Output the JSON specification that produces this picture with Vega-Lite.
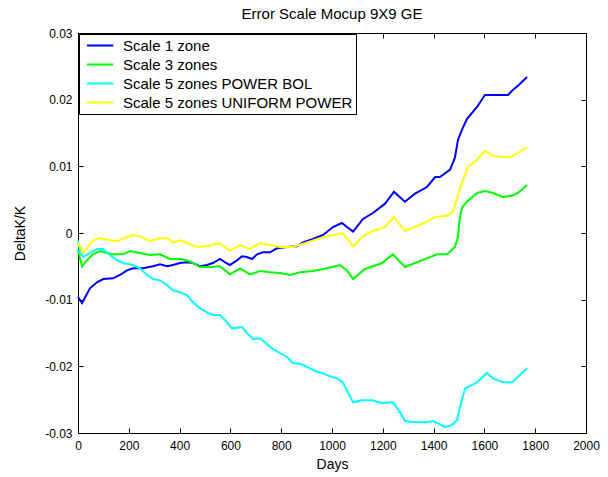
{
"$schema":"https://vega.github.io/schema/vega-lite/v6.json",
"width":508,"height":400,
"autosize":{"type":"none"},
"padding":{"left":78,"top":33,"right":22,"bottom":44},
"background":"white",
"title":{"text":"Error Scale Mocup 9X9 GE","font":"Liberation Sans","fontSize":15,"fontWeight":"normal","color":"black","anchor":"middle","frame":"group","baseline":"bottom","offset":-10},
"data":{"values":[
{"s":"Scale 1 zone","d":0,"v":-0.0096},{"s":"Scale 1 zone","d":16,"v":-0.0105},{"s":"Scale 1 zone","d":47,"v":-0.0083},{"s":"Scale 1 zone","d":75,"v":-0.0074},{"s":"Scale 1 zone","d":99,"v":-0.0069},{"s":"Scale 1 zone","d":138,"v":-0.0068},{"s":"Scale 1 zone","d":165,"v":-0.0063},{"s":"Scale 1 zone","d":193,"v":-0.0056},{"s":"Scale 1 zone","d":217,"v":-0.0053},{"s":"Scale 1 zone","d":256,"v":-0.0053},{"s":"Scale 1 zone","d":295,"v":-0.0050},{"s":"Scale 1 zone","d":323,"v":-0.0047},{"s":"Scale 1 zone","d":351,"v":-0.0050},{"s":"Scale 1 zone","d":374,"v":-0.0048},{"s":"Scale 1 zone","d":401,"v":-0.0045},{"s":"Scale 1 zone","d":429,"v":-0.0044},{"s":"Scale 1 zone","d":453,"v":-0.0045},{"s":"Scale 1 zone","d":481,"v":-0.0050},{"s":"Scale 1 zone","d":508,"v":-0.0048},{"s":"Scale 1 zone","d":531,"v":-0.0045},{"s":"Scale 1 zone","d":559,"v":-0.0039},{"s":"Scale 1 zone","d":579,"v":-0.0044},{"s":"Scale 1 zone","d":598,"v":-0.0048},{"s":"Scale 1 zone","d":626,"v":-0.0041},{"s":"Scale 1 zone","d":646,"v":-0.0035},{"s":"Scale 1 zone","d":665,"v":-0.0036},{"s":"Scale 1 zone","d":685,"v":-0.0039},{"s":"Scale 1 zone","d":705,"v":-0.0032},{"s":"Scale 1 zone","d":728,"v":-0.0029},{"s":"Scale 1 zone","d":756,"v":-0.0029},{"s":"Scale 1 zone","d":783,"v":-0.0023},{"s":"Scale 1 zone","d":823,"v":-0.0021},{"s":"Scale 1 zone","d":862,"v":-0.0020},{"s":"Scale 1 zone","d":886,"v":-0.0014},{"s":"Scale 1 zone","d":925,"v":-0.0009},{"s":"Scale 1 zone","d":965,"v":-0.0003},{"s":"Scale 1 zone","d":1004,"v":0.0009},{"s":"Scale 1 zone","d":1039,"v":0.0015},{"s":"Scale 1 zone","d":1059,"v":0.0009},{"s":"Scale 1 zone","d":1083,"v":0.0002},{"s":"Scale 1 zone","d":1122,"v":0.0021},{"s":"Scale 1 zone","d":1161,"v":0.0030},{"s":"Scale 1 zone","d":1209,"v":0.0044},{"s":"Scale 1 zone","d":1244,"v":0.0062},{"s":"Scale 1 zone","d":1287,"v":0.0047},{"s":"Scale 1 zone","d":1327,"v":0.0059},{"s":"Scale 1 zone","d":1374,"v":0.0069},{"s":"Scale 1 zone","d":1406,"v":0.0084},{"s":"Scale 1 zone","d":1425,"v":0.0084},{"s":"Scale 1 zone","d":1465,"v":0.0095},{"s":"Scale 1 zone","d":1484,"v":0.0113},{"s":"Scale 1 zone","d":1496,"v":0.0140},{"s":"Scale 1 zone","d":1512,"v":0.0155},{"s":"Scale 1 zone","d":1531,"v":0.0171},{"s":"Scale 1 zone","d":1571,"v":0.0189},{"s":"Scale 1 zone","d":1602,"v":0.0207},{"s":"Scale 1 zone","d":1650,"v":0.0207},{"s":"Scale 1 zone","d":1693,"v":0.0207},{"s":"Scale 1 zone","d":1713,"v":0.0215},{"s":"Scale 1 zone","d":1732,"v":0.0221},{"s":"Scale 1 zone","d":1768,"v":0.0234},
{"s":"Scale 3 zones","d":0,"v":-0.0026},{"s":"Scale 3 zones","d":16,"v":-0.0050},{"s":"Scale 3 zones","d":35,"v":-0.0041},{"s":"Scale 3 zones","d":59,"v":-0.0032},{"s":"Scale 3 zones","d":87,"v":-0.0027},{"s":"Scale 3 zones","d":114,"v":-0.0030},{"s":"Scale 3 zones","d":138,"v":-0.0032},{"s":"Scale 3 zones","d":177,"v":-0.0032},{"s":"Scale 3 zones","d":205,"v":-0.0027},{"s":"Scale 3 zones","d":244,"v":-0.0030},{"s":"Scale 3 zones","d":283,"v":-0.0033},{"s":"Scale 3 zones","d":323,"v":-0.0032},{"s":"Scale 3 zones","d":362,"v":-0.0039},{"s":"Scale 3 zones","d":402,"v":-0.0039},{"s":"Scale 3 zones","d":429,"v":-0.0041},{"s":"Scale 3 zones","d":453,"v":-0.0045},{"s":"Scale 3 zones","d":480,"v":-0.0051},{"s":"Scale 3 zones","d":520,"v":-0.0051},{"s":"Scale 3 zones","d":559,"v":-0.0050},{"s":"Scale 3 zones","d":598,"v":-0.0062},{"s":"Scale 3 zones","d":638,"v":-0.0053},{"s":"Scale 3 zones","d":677,"v":-0.0062},{"s":"Scale 3 zones","d":717,"v":-0.0057},{"s":"Scale 3 zones","d":756,"v":-0.0059},{"s":"Scale 3 zones","d":795,"v":-0.0060},{"s":"Scale 3 zones","d":835,"v":-0.0063},{"s":"Scale 3 zones","d":874,"v":-0.0059},{"s":"Scale 3 zones","d":925,"v":-0.0057},{"s":"Scale 3 zones","d":980,"v":-0.0053},{"s":"Scale 3 zones","d":1031,"v":-0.0048},{"s":"Scale 3 zones","d":1059,"v":-0.0056},{"s":"Scale 3 zones","d":1083,"v":-0.0069},{"s":"Scale 3 zones","d":1130,"v":-0.0054},{"s":"Scale 3 zones","d":1197,"v":-0.0045},{"s":"Scale 3 zones","d":1240,"v":-0.0032},{"s":"Scale 3 zones","d":1287,"v":-0.0051},{"s":"Scale 3 zones","d":1327,"v":-0.0045},{"s":"Scale 3 zones","d":1374,"v":-0.0038},{"s":"Scale 3 zones","d":1413,"v":-0.0032},{"s":"Scale 3 zones","d":1453,"v":-0.0032},{"s":"Scale 3 zones","d":1484,"v":-0.0021},{"s":"Scale 3 zones","d":1496,"v":-0.0006},{"s":"Scale 3 zones","d":1503,"v":0.0022},{"s":"Scale 3 zones","d":1512,"v":0.0038},{"s":"Scale 3 zones","d":1531,"v":0.0047},{"s":"Scale 3 zones","d":1571,"v":0.0060},{"s":"Scale 3 zones","d":1602,"v":0.0063},{"s":"Scale 3 zones","d":1634,"v":0.0060},{"s":"Scale 3 zones","d":1673,"v":0.0054},{"s":"Scale 3 zones","d":1709,"v":0.0056},{"s":"Scale 3 zones","d":1732,"v":0.0060},{"s":"Scale 3 zones","d":1768,"v":0.0072},
{"s":"Scale 5 zones POWER BOL","d":0,"v":-0.0011},{"s":"Scale 5 zones POWER BOL","d":8,"v":-0.0029},{"s":"Scale 5 zones POWER BOL","d":20,"v":-0.0036},{"s":"Scale 5 zones POWER BOL","d":47,"v":-0.0030},{"s":"Scale 5 zones POWER BOL","d":75,"v":-0.0024},{"s":"Scale 5 zones POWER BOL","d":98,"v":-0.0024},{"s":"Scale 5 zones POWER BOL","d":126,"v":-0.0033},{"s":"Scale 5 zones POWER BOL","d":154,"v":-0.0041},{"s":"Scale 5 zones POWER BOL","d":177,"v":-0.0045},{"s":"Scale 5 zones POWER BOL","d":217,"v":-0.0048},{"s":"Scale 5 zones POWER BOL","d":244,"v":-0.0053},{"s":"Scale 5 zones POWER BOL","d":272,"v":-0.0063},{"s":"Scale 5 zones POWER BOL","d":295,"v":-0.0069},{"s":"Scale 5 zones POWER BOL","d":323,"v":-0.0071},{"s":"Scale 5 zones POWER BOL","d":350,"v":-0.0078},{"s":"Scale 5 zones POWER BOL","d":374,"v":-0.0086},{"s":"Scale 5 zones POWER BOL","d":402,"v":-0.0089},{"s":"Scale 5 zones POWER BOL","d":429,"v":-0.0093},{"s":"Scale 5 zones POWER BOL","d":453,"v":-0.0104},{"s":"Scale 5 zones POWER BOL","d":480,"v":-0.0113},{"s":"Scale 5 zones POWER BOL","d":508,"v":-0.0119},{"s":"Scale 5 zones POWER BOL","d":531,"v":-0.0123},{"s":"Scale 5 zones POWER BOL","d":559,"v":-0.0123},{"s":"Scale 5 zones POWER BOL","d":587,"v":-0.0134},{"s":"Scale 5 zones POWER BOL","d":606,"v":-0.0143},{"s":"Scale 5 zones POWER BOL","d":646,"v":-0.0141},{"s":"Scale 5 zones POWER BOL","d":665,"v":-0.0150},{"s":"Scale 5 zones POWER BOL","d":689,"v":-0.0159},{"s":"Scale 5 zones POWER BOL","d":717,"v":-0.0158},{"s":"Scale 5 zones POWER BOL","d":736,"v":-0.0164},{"s":"Scale 5 zones POWER BOL","d":764,"v":-0.0173},{"s":"Scale 5 zones POWER BOL","d":795,"v":-0.0180},{"s":"Scale 5 zones POWER BOL","d":823,"v":-0.0186},{"s":"Scale 5 zones POWER BOL","d":846,"v":-0.0195},{"s":"Scale 5 zones POWER BOL","d":882,"v":-0.0197},{"s":"Scale 5 zones POWER BOL","d":913,"v":-0.0203},{"s":"Scale 5 zones POWER BOL","d":933,"v":-0.0207},{"s":"Scale 5 zones POWER BOL","d":961,"v":-0.0210},{"s":"Scale 5 zones POWER BOL","d":992,"v":-0.0215},{"s":"Scale 5 zones POWER BOL","d":1020,"v":-0.0218},{"s":"Scale 5 zones POWER BOL","d":1043,"v":-0.0224},{"s":"Scale 5 zones POWER BOL","d":1063,"v":-0.0239},{"s":"Scale 5 zones POWER BOL","d":1083,"v":-0.0254},{"s":"Scale 5 zones POWER BOL","d":1118,"v":-0.0251},{"s":"Scale 5 zones POWER BOL","d":1157,"v":-0.0251},{"s":"Scale 5 zones POWER BOL","d":1197,"v":-0.0255},{"s":"Scale 5 zones POWER BOL","d":1240,"v":-0.0254},{"s":"Scale 5 zones POWER BOL","d":1268,"v":-0.0269},{"s":"Scale 5 zones POWER BOL","d":1287,"v":-0.0282},{"s":"Scale 5 zones POWER BOL","d":1327,"v":-0.0284},{"s":"Scale 5 zones POWER BOL","d":1374,"v":-0.0284},{"s":"Scale 5 zones POWER BOL","d":1398,"v":-0.0282},{"s":"Scale 5 zones POWER BOL","d":1425,"v":-0.0287},{"s":"Scale 5 zones POWER BOL","d":1445,"v":-0.0291},{"s":"Scale 5 zones POWER BOL","d":1472,"v":-0.0288},{"s":"Scale 5 zones POWER BOL","d":1492,"v":-0.0281},{"s":"Scale 5 zones POWER BOL","d":1504,"v":-0.0261},{"s":"Scale 5 zones POWER BOL","d":1524,"v":-0.0233},{"s":"Scale 5 zones POWER BOL","d":1571,"v":-0.0224},{"s":"Scale 5 zones POWER BOL","d":1610,"v":-0.0210},{"s":"Scale 5 zones POWER BOL","d":1634,"v":-0.0218},{"s":"Scale 5 zones POWER BOL","d":1673,"v":-0.0224},{"s":"Scale 5 zones POWER BOL","d":1709,"v":-0.0224},{"s":"Scale 5 zones POWER BOL","d":1732,"v":-0.0216},{"s":"Scale 5 zones POWER BOL","d":1768,"v":-0.0203},
{"s":"Scale 5 zones UNIFORM POWER","d":0,"v":-0.0014},{"s":"Scale 5 zones UNIFORM POWER","d":20,"v":-0.0030},{"s":"Scale 5 zones UNIFORM POWER","d":35,"v":-0.0023},{"s":"Scale 5 zones UNIFORM POWER","d":59,"v":-0.0011},{"s":"Scale 5 zones UNIFORM POWER","d":87,"v":-0.0008},{"s":"Scale 5 zones UNIFORM POWER","d":126,"v":-0.0011},{"s":"Scale 5 zones UNIFORM POWER","d":157,"v":-0.0012},{"s":"Scale 5 zones UNIFORM POWER","d":193,"v":-0.0006},{"s":"Scale 5 zones UNIFORM POWER","d":217,"v":-0.0003},{"s":"Scale 5 zones UNIFORM POWER","d":244,"v":-0.0005},{"s":"Scale 5 zones UNIFORM POWER","d":283,"v":-0.0012},{"s":"Scale 5 zones UNIFORM POWER","d":323,"v":-0.0008},{"s":"Scale 5 zones UNIFORM POWER","d":350,"v":-0.0008},{"s":"Scale 5 zones UNIFORM POWER","d":374,"v":-0.0014},{"s":"Scale 5 zones UNIFORM POWER","d":402,"v":-0.0011},{"s":"Scale 5 zones UNIFORM POWER","d":429,"v":-0.0015},{"s":"Scale 5 zones UNIFORM POWER","d":469,"v":-0.0021},{"s":"Scale 5 zones UNIFORM POWER","d":508,"v":-0.0020},{"s":"Scale 5 zones UNIFORM POWER","d":559,"v":-0.0015},{"s":"Scale 5 zones UNIFORM POWER","d":598,"v":-0.0027},{"s":"Scale 5 zones UNIFORM POWER","d":638,"v":-0.0018},{"s":"Scale 5 zones UNIFORM POWER","d":677,"v":-0.0024},{"s":"Scale 5 zones UNIFORM POWER","d":717,"v":-0.0015},{"s":"Scale 5 zones UNIFORM POWER","d":756,"v":-0.0018},{"s":"Scale 5 zones UNIFORM POWER","d":795,"v":-0.0021},{"s":"Scale 5 zones UNIFORM POWER","d":846,"v":-0.0021},{"s":"Scale 5 zones UNIFORM POWER","d":902,"v":-0.0014},{"s":"Scale 5 zones UNIFORM POWER","d":953,"v":-0.0008},{"s":"Scale 5 zones UNIFORM POWER","d":1004,"v":-0.0003},{"s":"Scale 5 zones UNIFORM POWER","d":1039,"v":0.0000},{"s":"Scale 5 zones UNIFORM POWER","d":1059,"v":-0.0008},{"s":"Scale 5 zones UNIFORM POWER","d":1083,"v":-0.0020},{"s":"Scale 5 zones UNIFORM POWER","d":1122,"v":-0.0005},{"s":"Scale 5 zones UNIFORM POWER","d":1161,"v":0.0003},{"s":"Scale 5 zones UNIFORM POWER","d":1209,"v":0.0009},{"s":"Scale 5 zones UNIFORM POWER","d":1244,"v":0.0024},{"s":"Scale 5 zones UNIFORM POWER","d":1287,"v":0.0003},{"s":"Scale 5 zones UNIFORM POWER","d":1327,"v":0.0009},{"s":"Scale 5 zones UNIFORM POWER","d":1374,"v":0.0017},{"s":"Scale 5 zones UNIFORM POWER","d":1406,"v":0.0024},{"s":"Scale 5 zones UNIFORM POWER","d":1453,"v":0.0026},{"s":"Scale 5 zones UNIFORM POWER","d":1476,"v":0.0032},{"s":"Scale 5 zones UNIFORM POWER","d":1496,"v":0.0057},{"s":"Scale 5 zones UNIFORM POWER","d":1516,"v":0.0080},{"s":"Scale 5 zones UNIFORM POWER","d":1535,"v":0.0099},{"s":"Scale 5 zones UNIFORM POWER","d":1571,"v":0.0110},{"s":"Scale 5 zones UNIFORM POWER","d":1602,"v":0.0123},{"s":"Scale 5 zones UNIFORM POWER","d":1634,"v":0.0116},{"s":"Scale 5 zones UNIFORM POWER","d":1673,"v":0.0114},{"s":"Scale 5 zones UNIFORM POWER","d":1701,"v":0.0114},{"s":"Scale 5 zones UNIFORM POWER","d":1732,"v":0.0120},{"s":"Scale 5 zones UNIFORM POWER","d":1768,"v":0.0129}
]},
"layer":[
{"mark":{"type":"line","strokeWidth":2,"opacity":0},
 "encoding":{
  "x":{"field":"d","type":"quantitative","scale":{"domain":[0,2000],"nice":false,"zero":false},"axis":{"orient":"top","labels":false,"title":null,"values":[0,200,400,600,800,1000,1200,1400,1600,1800,2000]}},
  "y":{"field":"v","type":"quantitative","scale":{"domain":[-0.03,0.03],"nice":false,"zero":false},"axis":{"orient":"right","labels":false,"title":null,"values":[-0.03,-0.02,-0.01,0,0.01,0.02,0.03]}},
  "detail":{"field":"s","type":"nominal"}
 }},
{"mark":{"type":"line","strokeWidth":2},
 "encoding":{
  "x":{"field":"d","type":"quantitative","scale":{"domain":[0,2000],"nice":false,"zero":false},"axis":{"orient":"bottom","title":"Days","values":[0,200,400,600,800,1000,1200,1400,1600,1800,2000],"labelExpr":"'' + datum.value","labelFlush":false,"labelPadding":12,"titleX":254,"titleY":35,"titleBaseline":"alphabetic","titleAnchor":"middle"}},
  "y":{"field":"v","type":"quantitative","scale":{"domain":[-0.03,0.03],"nice":false,"zero":false},"axis":{"orient":"left","title":"DeltaK/K","values":[-0.03,-0.02,-0.01,0,0.01,0.02,0.03],"labelExpr":"'' + datum.value","labelFlush":false,"labelPadding":11,"titleX":-58,"titleY":200,"titleAngle":-90,"titleAlign":"center","titleBaseline":"middle"}},
  "color":{"field":"s","type":"nominal","scale":{"domain":["Scale 1 zone","Scale 3 zones","Scale 5 zones POWER BOL","Scale 5 zones UNIFORM POWER"],"range":["#0000ff","#00ff00","#00ffff","#ffff00"]},
   "legend":{"orient":"top-left","offset":1,"title":null,"padding":3,"strokeColor":"black","fillColor":"white","cornerRadius":0,"symbolType":"M-0.47,0H3.04","symbolSize":225,"symbolStrokeWidth":2,"labelFont":"Liberation Sans","labelFontSize":15,"labelColor":"black","labelOffset":24,"labelLimit":400,"rowPadding":2,"labelExpr":"datum.label + '\u2003'"}}
 }}
],
"resolve":{"axis":{"x":"independent","y":"independent"}},
"config":{
 "view":{"stroke":"black","strokeWidth":1},
 "axis":{"grid":false,"domain":false,"ticks":true,"tickColor":"black","tickSize":-5,"tickWidth":1,"labelColor":"black","labelFont":"Liberation Sans","labelFontSize":12,"titleFont":"Liberation Sans","titleFontSize":14,"titleFontWeight":"normal","titleColor":"black"}
}
}
